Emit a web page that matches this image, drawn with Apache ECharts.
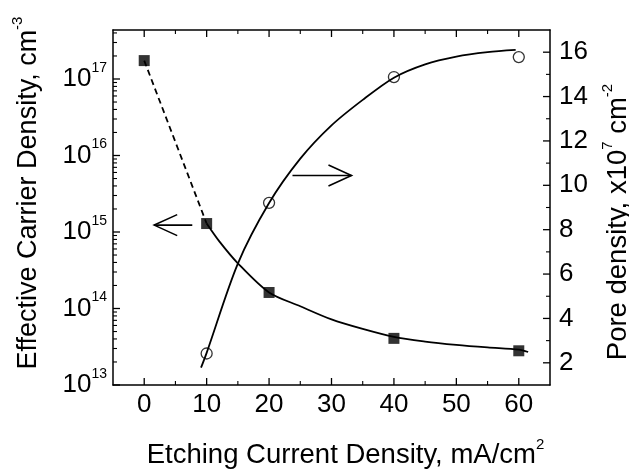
<!DOCTYPE html>
<html><head><meta charset="utf-8">
<script src="https://cdn.jsdelivr.net/npm/echarts@6/dist/echarts.min.js"></script>
<style>html,body{margin:0;padding:0;background:#fff}#c{width:629px;height:469px}#h{width:629px;height:469px;position:absolute;left:-3000px;top:0}</style>
</head><body><div id="c"></div><div id="h"></div>
<script>
// ---- data ----
const currentDensity = [0, 10, 20, 40, 60];
const carrierDensity = [1.74e17, 1.29e15, 1.62e14, 4.07e13, 2.8e13];
const poreX = [10, 20, 40, 60];
const poreDensity = [2.42, 9.21, 14.88, 15.78];
const carrierDashX = [0, 10];
const carrierDashY = [1.74e17, 1.29e15];
const carrierFitX = [10, 12, 15, 20, 25, 30, 35, 40, 45, 50, 55, 60, 61.5];
const carrierFitY = [1.29e15, 7.6e14, 3.9e14, 1.62e14, 1.07e14, 7.2e13, 5.4e13, 4.25e13, 3.7e13, 3.35e13, 3.1e13, 2.9e13, 2.7e13];
const poreFitX = [9.1, 10, 15, 20, 25, 30, 35, 40, 45, 50, 55, 59.5];
const poreFitY = [1.78, 2.45, 6.47, 9.2, 11.2, 12.7, 13.85, 14.85, 15.45, 15.8, 16.0, 16.1];
const xTicks = [0, 10, 20, 30, 40, 50, 60];
const xMinorTicks = [5, 15, 25, 35, 45, 55];
const poreTicks = [2, 4, 6, 8, 10, 12, 14, 16];
const poreMinorTicks = [3, 5, 7, 9, 11, 13, 15];
const decades = [13, 14, 15, 16, 17];
const leftArrow = [[7.7, 1.23e15], [1.6, 1.23e15]];
const rightArrow = [[23.75, 10.44], [33.2, 10.44]];

const FONT = 'Liberation Sans';
const BLACK = '#000';
const X_MIN = -5, X_MAX = 65, LOG_MIN = 1e13, LOG_MAX = 4.37e17, PORE_MIN = 1, PORE_MAX = 17;
const logMinor = [];
decades.forEach(d => { for (let k = 2; k <= 9; k++) { const v = k * Math.pow(10, d); if (v < LOG_MAX) logMinor.push(v); } });

const pairs = (xs, ys) => xs.map((x, i) => [x, ys[i]]);
const lineAx = {show: true, onZero: false, lineStyle: {color: BLACK, width: 1.5}};
const supRich = (big, small) => ({
  a: {fontSize: big, fontFamily: FONT, color: BLACK, lineHeight: big + 10},
  s: {fontSize: small, fontFamily: FONT, color: BLACK, verticalAlign: 'top'}
});

const option = {
  backgroundColor: '#fff',
  animation: false,
  grid: {left: 113, right: 79, top: 30, bottom: 84, containLabel: false, outerBoundsMode: 'none'},
  xAxis: [
    {type: 'value', position: 'bottom', min: X_MIN, max: X_MAX,
     axisLine: lineAx, splitLine: {show: false}, axisTick: {show: false},
     axisLabel: {customValues: xTicks, margin: 7, color: BLACK, fontSize: 26, fontFamily: FONT},
     name: '{a|Etching Current Density, mA/cm}{s|2}', nameLocation: 'middle', nameGap: 52,
     nameTextStyle: {color: BLACK, padding: [0, 0, 0, 28], rich: supRich(27.5, 15)}},
    {type: 'value', position: 'top', min: X_MIN, max: X_MAX,
     axisLine: lineAx, splitLine: {show: false}, axisTick: {show: false}, axisLabel: {show: false}}
  ],
  yAxis: [
    {type: 'log', logBase: 10, position: 'left', min: LOG_MIN, max: LOG_MAX,
     axisLine: lineAx, splitLine: {show: false}, minorTick: {show: false}, axisTick: {show: false},
     axisLabel: {margin: 6, color: BLACK, fontFamily: FONT,
       formatter: v => { const e = Math.log10(v); const r = Math.round(e); if (Math.abs(e - r) > 1e-6 || decades.indexOf(r) < 0) return ''; return '{a|10}{s|' + r + '}'; },
       rich: supRich(26, 14)},
     name: '{a|Effective Carrier Density, cm}{s|-3}', nameLocation: 'middle', nameGap: 66,
     nameTextStyle: {color: BLACK, padding: [0, 0, 0, 29], rich: supRich(27, 15)}},
    {type: 'value', position: 'right', min: PORE_MIN, max: PORE_MAX,
     axisLine: lineAx, splitLine: {show: false}, axisTick: {show: false},
     axisLabel: {customValues: poreTicks, margin: 9, color: BLACK, fontSize: 26, fontFamily: FONT},
     name: '{a|Pore density, x10}{s|7}{a| cm}{s|-2}', nameLocation: 'middle', nameGap: 50,
     nameTextStyle: {color: BLACK, padding: [0, 29, 0, 0], rich: supRich(27.5, 15)}}
  ],
  series: [
    {type: 'line', xAxisIndex: 0, yAxisIndex: 0, data: pairs(carrierDashX, carrierDashY), showSymbol: false,
     lineStyle: {color: BLACK, width: 1.8, type: [6, 4]}, z: 2},
    {type: 'line', xAxisIndex: 0, yAxisIndex: 0, data: pairs(carrierFitX, carrierFitY), showSymbol: false, smooth: 0.3,
     lineStyle: {color: BLACK, width: 1.8}, z: 2},
    {type: 'line', xAxisIndex: 0, yAxisIndex: 1, data: pairs(poreFitX, poreFitY), showSymbol: false, smooth: 0.3,
     lineStyle: {color: BLACK, width: 1.8}, z: 2},
    {type: 'scatter', xAxisIndex: 0, yAxisIndex: 0, data: pairs(currentDensity, carrierDensity), symbol: 'rect', symbolSize: 11,
     itemStyle: {color: BLACK}, z: 3},
    {type: 'scatter', xAxisIndex: 0, yAxisIndex: 1, data: pairs(poreX, poreDensity), symbol: 'circle', symbolSize: 11,
     itemStyle: {color: 'rgba(0,0,0,0)', borderColor: BLACK, borderWidth: 1.3}, z: 3}
  ]
};

// Off-screen twin: use the library's own scales to place arrows and inward tick marks.
const twin = echarts.init(document.getElementById('h'), null, {renderer: 'canvas'});
twin.setOption(option);
const px = (yIdx, pt) => twin.convertToPixel({xAxisIndex: 0, yAxisIndex: yIdx}, pt);
const seg = (x1, y1, x2, y2, w) => ({type: 'line', z: 10, shape: {x1, y1, x2, y2}, style: {stroke: BLACK, lineWidth: w}});

const els = [];
function arrow(arr, yIdx) {
  const p0 = px(yIdx, arr[0]), p1 = px(yIdx, arr[1]);
  const dx = p1[0] - p0[0], dy = p1[1] - p0[1];
  const len = Math.hypot(dx, dy), ux = dx / len, uy = dy / len;
  const hl = 23, hw = 10.5;
  els.push({type: 'polyline', shape: {points: [p0, p1]}, style: {stroke: BLACK, lineWidth: 1.6, fill: null}});
  els.push({type: 'polyline', shape: {points: [
    [p1[0] - ux * hl - uy * hw, p1[1] - uy * hl + ux * hw], p1,
    [p1[0] - ux * hl + uy * hw, p1[1] - uy * hl - ux * hw]]},
    style: {stroke: BLACK, lineWidth: 1.6, fill: null}});
}
arrow(leftArrow, 0);
arrow(rightArrow, 1);

// x ticks (bottom and top, pointing inward)
[[xTicks, 7, 1.3], [xMinorTicks, 4, 1.1]].forEach(([vals, L, w]) => vals.forEach(v => {
  const b = px(0, [v, LOG_MIN]), t = px(0, [v, LOG_MAX]);
  els.push(seg(b[0], b[1], b[0], b[1] - L, w));
  els.push(seg(t[0], t[1], t[0], t[1] + L, w));
}));
// left log ticks
[[decades.map(d => Math.pow(10, d)), 7, 1.3], [logMinor, 4, 1.1]].forEach(([vals, L, w]) => vals.forEach(v => {
  const p = px(0, [X_MIN, v]);
  els.push(seg(p[0], p[1], p[0] + L, p[1], w));
}));
// right pore-density ticks
[[poreTicks, 7, 1.3], [poreMinorTicks, 4, 1.1]].forEach(([vals, L, w]) => vals.forEach(v => {
  const p = px(1, [X_MAX, v]);
  els.push(seg(p[0], p[1], p[0] - L, p[1], w));
}));

option.graphic = {elements: els};
twin.dispose();

const chart = echarts.init(document.getElementById('c'), null, {renderer: 'canvas'});
chart.setOption(option);
</script></body></html>
